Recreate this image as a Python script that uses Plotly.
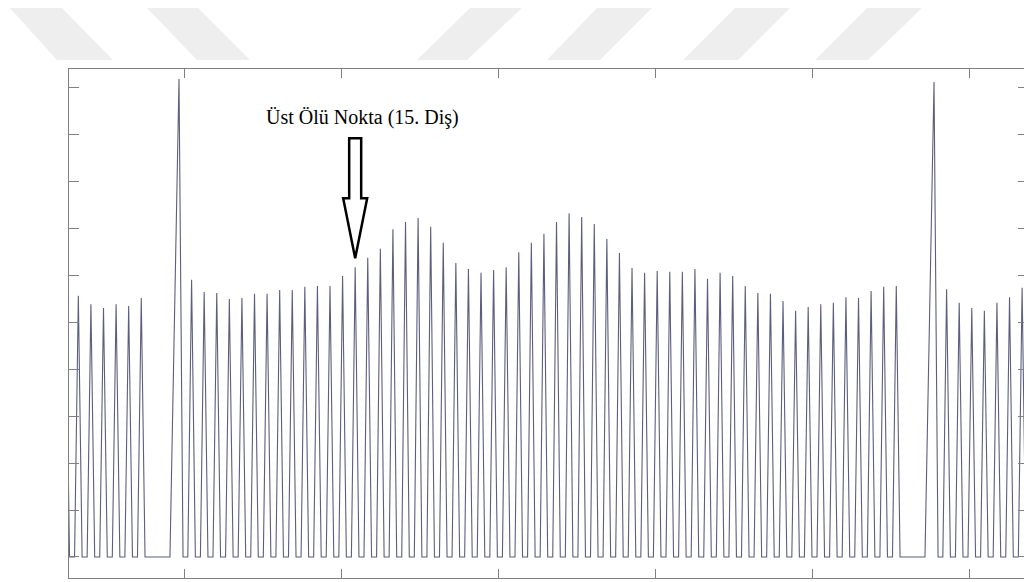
import plotly.graph_objects as go

# ---------------- data ----------------
# tooth slots (one slot = one tooth pitch); the big pulse marks the missing-tooth gap
tooth_slots = list(range(-9, -2)) + list(range(1, 58)) + list(range(61, 68))
tooth_peaks = [
    5.50, 5.57, 5.39, 5.31, 5.39, 5.35, 5.52,
    5.91, 5.65, 5.63, 5.50, 5.52, 5.61, 5.61, 5.69, 5.69, 5.76,
    5.78, 5.78, 5.99, 6.18, 6.38, 6.57, 6.99, 7.14, 7.23, 7.04,
    6.70, 6.27, 6.14, 6.06, 6.12, 6.18, 6.50, 6.70, 6.89, 7.14,
    7.33, 7.25, 7.10, 6.78, 6.48, 6.16, 6.06, 6.10, 6.08, 6.08,
    6.14, 5.93, 6.06, 5.99, 5.78, 5.63, 5.61, 5.46, 5.25, 5.33,
    5.39, 5.42, 5.54, 5.52, 5.67, 5.76, 5.78,
    5.71, 5.42, 5.31, 5.25, 5.42, 5.54, 5.74,
]
gap_slots = [0, 60]
gap_peaks = [10.19, 10.13]

tdc_slot = 14                      # tooth marked by the arrow
tdc_label = "Üst Ölü Nokta (15. Diş)"

x_range = [-8.742, 67.15]
y_range = [-0.448, 10.405]
x_tick0, x_dtick = 0.397, 12.477

# ---------------- build the waveform ----------------
pulses = [(s, v, 0.30, 0.30) for s, v in zip(tooth_slots, tooth_peaks)]
pulses += [(s, v, 0.72, 0.32) for s, v in zip(gap_slots, gap_peaks)]
pulses.sort(key=lambda p: p[0])

wx, wy = [x_range[0] - 2], [0.0]
for s, v, a, b in pulses:
    wx += [s - a, s, s + b]
    wy += [0.0, v, 0.0]
wx.append(x_range[1] + 2)
wy.append(0.0)

fig = go.Figure()
fig.add_trace(go.Scatter(x=wx, y=wy, mode="lines",
                         line=dict(color="#5b5e7e", width=1.1),
                         hoverinfo="skip", showlegend=False))
fig.add_trace(go.Scatter(x=[], y=[], yaxis="y2", showlegend=False))

W, H = 1024, 582
ML, MR, MT, MB = 69, 0, 69, 4


def px2paper(px, py):
    return ((px - ML) / (W - ML - MR), (H - MB - py) / (H - MT - MB))


# light watermark stripes above the frame
stripes = [
    [(10, 8), (62, 8), (113, 60), (57, 60)],
    [(147, 8), (198, 8), (250, 60), (197, 60)],
    [(470, 8), (522, 8), (467, 60), (417, 60)],
    [(597, 8), (652, 8), (600, 60), (547, 60)],
    [(735, 8), (790, 8), (738, 60), (683, 60)],
    [(867, 8), (922, 8), (868, 60), (815, 60)],
]
for poly in stripes:
    pts = [px2paper(*p) for p in poly]
    path = "M " + " L ".join(f"{x:.5f},{y:.5f}" for x, y in pts) + " Z"
    fig.add_shape(type="path", path=path, xref="paper", yref="paper",
                  fillcolor="#eeeeee", line=dict(width=0), layer="below")

# hollow block arrow pointing at the marked tooth (pixel offsets from its peak)
tdc_peak = tooth_peaks[tooth_slots.index(tdc_slot)]
arrow = [(0, 9), (-12, 69), (-6, 69), (-6, 129), (6, 129), (6, 69), (12, 69)]
fig.add_shape(type="path",
              path="M " + " L ".join(f"{x},{y}" for x, y in arrow) + " Z",
              xref="x", yref="y", xsizemode="pixel", ysizemode="pixel",
              xanchor=tdc_slot, yanchor=tdc_peak,
              line=dict(color="black", width=2.5), fillcolor="white")

fig.add_annotation(x=tdc_slot, y=tdc_peak, xref="x", yref="y",
                   text=tdc_label, showarrow=False, xshift=7, yshift=150,
                   font=dict(family="Liberation Serif", size=20, color="black"))

axis_col = "#808080"
fig.update_layout(
    width=W, height=H,
    margin=dict(l=ML, r=MR, t=MT, b=MB, pad=0),
    paper_bgcolor="white", plot_bgcolor="white",
    showlegend=False,
    xaxis=dict(range=x_range, showgrid=False, zeroline=False,
               showline=True, linecolor=axis_col, linewidth=1, mirror="ticks",
               ticks="inside", ticklen=9, tickcolor=axis_col,
               tickmode="linear", tick0=x_tick0, dtick=x_dtick,
               showticklabels=False),
    yaxis=dict(range=y_range, showgrid=False, zeroline=False,
               showline=True, linecolor=axis_col, linewidth=1, mirror=False,
               ticks="inside", ticklen=10, tickcolor=axis_col,
               tickmode="linear", tick0=0, dtick=1,
               showticklabels=False),
    yaxis2=dict(range=y_range, overlaying="y", side="right", anchor="x",
                showgrid=False, zeroline=False, showline=False,
                ticks="inside", ticklen=6, tickcolor=axis_col,
                tickmode="linear", tick0=0, dtick=1,
                showticklabels=False),
)

fig.write_html("out.html")
